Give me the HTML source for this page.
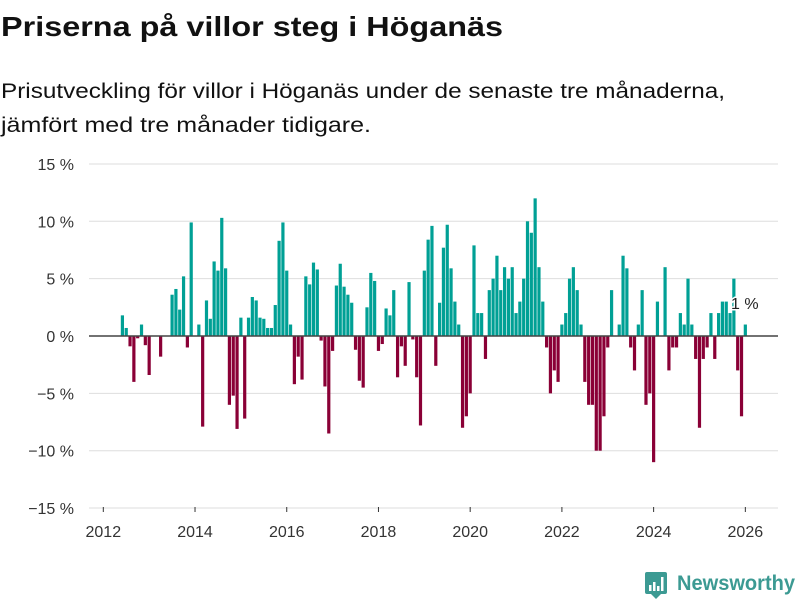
<!DOCTYPE html>
<html><head><meta charset="utf-8"><style>
body{margin:0;background:#fff;width:800px;height:600px;overflow:hidden;font-family:"Liberation Sans","DejaVu Sans",sans-serif}
svg{display:block}
</style></head><body>
<svg id="chart" width="800" height="600" viewBox="0 0 800 600" xmlns="http://www.w3.org/2000/svg">
<text x="1" y="36" font-size="28" font-weight="bold" fill="#111" textLength="502" lengthAdjust="spacingAndGlyphs">Priserna på villor steg i Höganäs</text>
<text x="1" y="98" font-size="21" fill="#111" textLength="724" lengthAdjust="spacingAndGlyphs">Prisutveckling för villor i Höganäs under de senaste tre månaderna,</text>
<text x="1" y="132" font-size="21" fill="#111" textLength="370" lengthAdjust="spacingAndGlyphs">jämfört med tre månader tidigare.</text>
<g id="grid"></g>
<g id="bars"></g>
<g id="xaxis"></g>
<g>
<rect x="645" y="572" width="22" height="22" rx="2" fill="#3c9a93"/>
<path d="M651 594 L656 599 L661 594 Z" fill="#3c9a93"/>
<rect x="649" y="585" width="2.5" height="6" fill="#fff"/>
<rect x="653" y="582" width="2.5" height="9" fill="#fff"/>
<rect x="657" y="586" width="2.5" height="5" fill="#fff"/>
<rect x="661" y="577" width="2.5" height="14" fill="#fff"/>
<text x="677" y="590" font-size="21" font-weight="bold" fill="#3c9a93" textLength="118" lengthAdjust="spacingAndGlyphs">Newsworthy</text>
</g>
</svg>
<script>
const startYear = 2012;
const startMonth = 5; // May 2012
const values = [1.8,0.7,-0.9,-4.0,-0.2,1.0,-0.8,-3.4,0,0,-1.8,0,0,3.6,4.1,2.3,5.2,-1.0,9.9,0,1.0,-7.9,
3.1,1.5,6.5,5.7,10.3,5.9,-6.0,-5.2,-8.1,1.6,-7.2,1.6,3.4,3.1,1.6,1.5,0.7,0.7,2.7,8.3,9.9,5.7,1.0,-4.2,
-1.8,-3.8,5.2,4.5,6.4,5.8,-0.4,-4.4,-8.5,-1.3,4.4,6.3,4.3,3.6,2.9,-1.2,-3.9,-4.5,2.5,5.5,4.8,-1.3,-0.7,
2.4,1.8,4.0,-3.6,-0.9,-2.6,4.7,-0.3,-3.6,-7.8,5.7,8.4,9.6,-2.6,2.9,7.7,9.7,5.9,3.0,1.0,-8.0,-7.0,-5.0,
7.9,2.0,2.0,-2.0,4.0,5.0,7.0,4.0,6.0,5.0,6.0,2.0,3.0,5.0,10.0,9.0,12.0,6.0,3.0,-1.0,-5.0,-3.0,-4.0,
1.0,2.0,5.0,6.0,4.0,1.0,-4.0,-6.0,-6.0,-10,-10,-7,-1,4,0,1,7,5.9,-1,-3,1,4,-6,-5,-11,3,0,6,-3,-1,-1,
2,1,5,1,-2,-8,-2,-1,2,-2,2,3,3,2,5,-3,-7,1];
const yTicks = [15,10,5,0,-5,-10,-15];
const xTicks = [2012,2014,2016,2018,2020,2022,2024,2026];
const lastLabel = "1 %";

const NS="http://www.w3.org/2000/svg";
const X0=103.3, PXY=45.86, Y0=336, PXP=11.47;
function x(t){return X0+(t-2012)*PXY;}
function y(v){return Y0-v*PXP;}
function mk(tag,attrs,parent){const e=document.createElementNS(NS,tag);for(const k in attrs)e.setAttribute(k,attrs[k]);parent.appendChild(e);return e;}
const grid=document.getElementById('grid'),bars=document.getElementById('bars'),xa=document.getElementById('xaxis');
yTicks.forEach(v=>{
  if(v!==0){const l=mk('line',{x1:89,x2:778,y1:y(v),y2:y(v),stroke:'#dedede','stroke-width':1},grid);
  
  }
  const t=mk('text',{x:74,y:y(v)+6,'text-anchor':'end','font-size':16,fill:'#333'},grid);
  
  
  t.textContent=(v<0?'\u2212'+(-v):v)+' %';
});
values.forEach((v,i)=>{
  if(v===0)return;
  const m=startMonth-1+i;
  const t=startYear+(m+1)/12;
  const cx=x(t);
  const r=mk('rect',{x:(cx-1.6).toFixed(2),width:3.2,y:Math.min(y(v),Y0),height:Math.abs(y(v)-Y0),fill:v>0?'#00a095':'#8a0036'},bars);
  
  
});
const zl=mk('line',{x1:89,x2:778,y1:Y0,y2:Y0,stroke:'#444','stroke-width':1.5},grid.parentNode);


xTicks.forEach(yr=>{
  const tk=mk('line',{x1:x(yr),x2:x(yr),y1:507,y2:512,stroke:'#333','stroke-width':1},xa);
  
  
  const t=mk('text',{x:x(yr),y:537,'text-anchor':'middle','font-size':16,fill:'#333'},xa);
  
  
  t.textContent=yr;
});
const lbl=mk('text',{x:731,y:309,'font-size':16,fill:'#222',stroke:'#fff','stroke-width':3,'paint-order':'stroke'},xa.parentNode);


lbl.textContent=lastLabel;
</script>
</body></html>
